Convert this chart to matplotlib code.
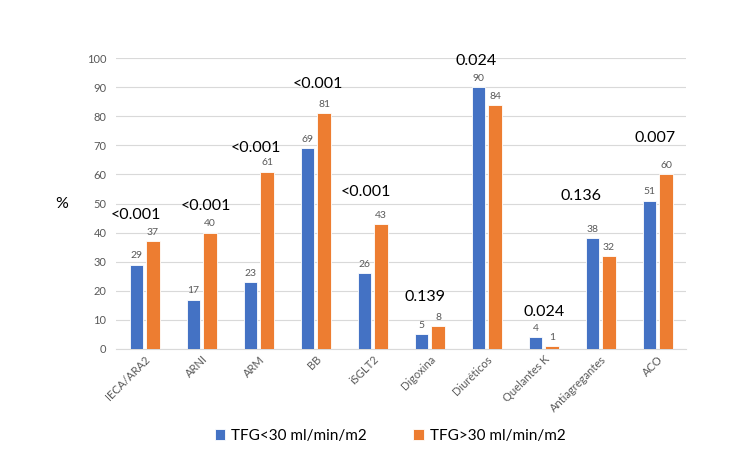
import numpy as np
import matplotlib.pyplot as plt

plt.rcParams['font.family'] = ['Lato', 'DejaVu Sans']

categories = ["IECA/ARA2", "ARNI", "ARM", "BB", "iSGLT2", "Digoxina",
              "Diuréticos", "Quelantes K", "Antiagregantes", "ACO"]
tfg_low = [29, 17, 23, 69, 26, 5, 90, 4, 38, 51]
tfg_high = [37, 40, 61, 81, 43, 8, 84, 1, 32, 60]
p_values = ["<0.001", "<0.001", "<0.001", "<0.001", "<0.001",
            "0.139", "0.024", "0.024", "0.136", "0.007"]
# where the p-value labels sit (x offset from group centre, height in %)
p_x_off = [-0.16, 0.07, -0.05, 0.03, -0.12, -0.09, -0.19, 0.0, -0.35, -0.05]
p_y = [46, 49, 69, 91, 54, 18, 99, 12.7, 52.5, 72.5]

blue = '#4472C4'
orange = '#ED7D31'
grey = '#595959'

fig = plt.figure(figsize=(7.5, 4.69), dpi=100)
ax = fig.add_axes([0.155, 0.256, 0.76, 0.62])

x = np.arange(len(categories))
w = 0.23
b1 = ax.bar(x - 0.145, tfg_low, w, color=blue, edgecolor='white', linewidth=0.6,
            label='TFG<30 ml/min/m2', zorder=3)
b2 = ax.bar(x + 0.145, tfg_high, w, color=orange, edgecolor='white', linewidth=0.6,
            label='TFG>30 ml/min/m2', zorder=3)
ax.bar_label(b1, padding=3, fontsize=7.5, color=grey)
ax.bar_label(b2, padding=3, fontsize=7.5, color=grey)

for i, p in enumerate(p_values):
    ax.text(x[i] + p_x_off[i], p_y[i], p, ha='center', va='center',
            fontsize=11.5, color='black')

ax.set_xlim(-0.5, len(categories) - 0.5)
ax.set_ylim(0, 100)
ax.set_yticks(range(0, 101, 10))
ax.yaxis.grid(True, color='#D9D9D9', linewidth=0.8, zorder=0)
ax.set_axisbelow(True)
for s in ['top', 'right', 'left']:
    ax.spines[s].set_visible(False)
ax.spines['bottom'].set_color('#D9D9D9')
ax.tick_params(axis='both', length=0, labelsize=8, colors=grey)
ax.tick_params(axis='y', pad=7)
ax.set_xticks(x)
ax.set_xticklabels(categories, rotation=45, ha='right', rotation_mode='anchor')

ax.set_ylabel('%', rotation=0, fontsize=11.5, color='black', va='center', ha='center')
ax.yaxis.set_label_coords(-0.095, 0.5)

fig.legend(loc='center', bbox_to_anchor=(0.52, 0.07), ncol=2, frameon=False,
           fontsize=11, handlelength=0.7, handleheight=0.7, columnspacing=3,
           handletextpad=0.4)

fig.savefig('out.png', dpi=100)
